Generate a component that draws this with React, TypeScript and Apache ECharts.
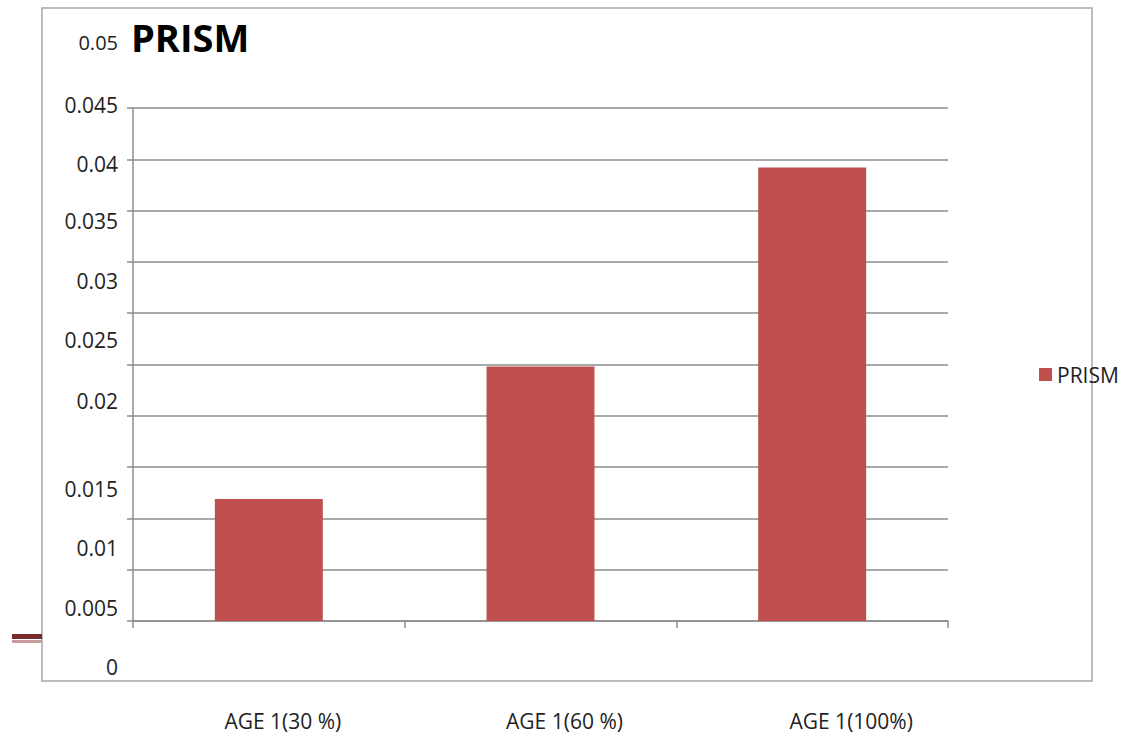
import React, { useEffect, useRef } from "react";
import * as echarts from "echarts";

const categories = ["AGE 1(30 %)", "AGE 1(60 %)", "AGE 1(100%)"];
const prismValues = [0.0119, 0.0248, 0.0442];
const seriesName = "PRISM";
const titleText = "PRISM";
const yMin = 0;
const yMax = 0.05;
const yStep = 0.005;

// layout only: horizontal nudges of category labels, vertical nudges of y labels (px)
const catLabelShift = [14, 24, 39];
const yLabelShift: Record<string, number> = {
  "0.04": -3,
  "0.035": -9,
  "0.03": -11,
  "0.025": -15,
  "0.02": -16,
  "0.015": 9,
  "0.01": 6,
  "0.005": 3,
};

export default function App() {
  const ref = useRef<HTMLDivElement>(null);
  useEffect(() => {
    if (!ref.current) return;
    const chart = echarts.init(ref.current, null, { renderer: "svg" });
    const font = "'Open Sans', 'Liberation Sans', sans-serif";
    const labelColor = "#222";

    const catRich: Record<string, any> = {};
    catLabelShift.forEach((s, i) => {
      catRich["c" + i] = {
        fontSize: 21,
        color: labelColor,
        fontFamily: font,
        padding: [0, 0, 0, 2 * s],
      };
    });

    const yRich: Record<string, any> = {};
    const yKeyOf = (v: number) => String(parseFloat(v.toFixed(3)));
    Object.keys(yLabelShift).forEach((k, i) => {
      const d = yLabelShift[k];
      yRich["y" + i] = {
        fontSize: 21,
        color: labelColor,
        fontFamily: font,
        padding: d < 0 ? [0, 0, -2 * d, 0] : [2 * d, 0, 0, 0],
      };
    });
    yRich.yn = { fontSize: 21, color: labelColor, fontFamily: font };
    yRich.ytop = { fontSize: 20, color: labelColor, fontFamily: font };
    const yKeys = Object.keys(yLabelShift);

    chart.setOption({
      animation: false,
      backgroundColor: "#ffffff",
      textStyle: { fontFamily: font },
      title: {
        text: titleText,
        left: 126,
        top: 13,
        textStyle: { fontSize: 38, fontWeight: "bold", color: "#000", fontFamily: font },
      },
      legend: {
        data: [seriesName],
        orient: "vertical",
        left: 1034,
        top: 359,
        itemWidth: 13,
        itemHeight: 13,
        itemGap: 6,
        icon: "rect",
        textStyle: { fontSize: 21, color: labelColor, fontFamily: font },
      },
      grid: [
        { left: 133, right: 179, top: 108, bottom: 117 },
        { left: 133, right: 179, top: 42, bottom: 71 },
      ],
      xAxis: [
        {
          type: "category",
          gridIndex: 0,
          data: categories,
          axisLine: { lineStyle: { color: "#8c8c8c", width: 1.5 } },
          axisTick: { show: true, length: 7, lineStyle: { color: "#8c8c8c", width: 1.5 } },
          axisLabel: {
            margin: 89,
            fontSize: 21,
            color: labelColor,
            fontFamily: font,
            formatter: (v: string, i: number) => "{c" + i + "|" + v + "}",
            rich: catRich,
          },
        },
        { type: "category", gridIndex: 1, data: categories, show: false },
      ],
      yAxis: [
        {
          type: "value",
          gridIndex: 0,
          min: yMin,
          max: yMax,
          interval: yStep,
          axisLine: { show: true, lineStyle: { color: "#8c8c8c", width: 1.5 } },
          axisTick: { show: true, inside: false, length: 6, lineStyle: { color: "#8c8c8c", width: 1.5 } },
          axisLabel: { show: false },
          splitLine: { show: true, lineStyle: { color: "#8c8c8c", width: 1.5 } },
        },
        {
          type: "value",
          gridIndex: 1,
          min: yMin,
          max: yMax,
          interval: yStep,
          axisLine: { show: false },
          axisTick: { show: false },
          splitLine: { show: false },
          axisLabel: {
            margin: 15,
            fontSize: 21,
            color: labelColor,
            fontFamily: font,
            formatter: (v: number) => {
              const k = yKeyOf(v);
              const idx = yKeys.indexOf(k);
              const style = v >= yMax ? "ytop" : idx >= 0 ? "y" + idx : "yn";
              return "{" + style + "|" + k + "}";
            },
            rich: yRich,
          },
        },
      ],
      series: [
        {
          name: seriesName,
          type: "bar",
          xAxisIndex: 0,
          yAxisIndex: 0,
          data: prismValues,
          barWidth: 108,
          itemStyle: { color: "#c0504d" },
        },
      ],
      graphic: [
        {
          type: "rect",
          shape: { x: 42, y: 8, width: 1050, height: 673 },
          style: { fill: "none", stroke: "#a6a6a6", lineWidth: 1.5 },
          silent: true,
          z: -1,
        },
        {
          type: "rect",
          shape: { x: 12, y: 634, width: 30, height: 5 },
          style: { fill: "#7a2b2b" },
          silent: true,
        },
        {
          type: "rect",
          shape: { x: 12, y: 640, width: 30, height: 3 },
          style: { fill: "#c89a9a" },
          silent: true,
        },
      ],
    });
    return () => chart.dispose();
  }, []);
  return (
    <div
      ref={ref}
      style={{ position: "fixed", left: 0, top: 0, width: 1127, height: 738 }}
    />
  );
}
